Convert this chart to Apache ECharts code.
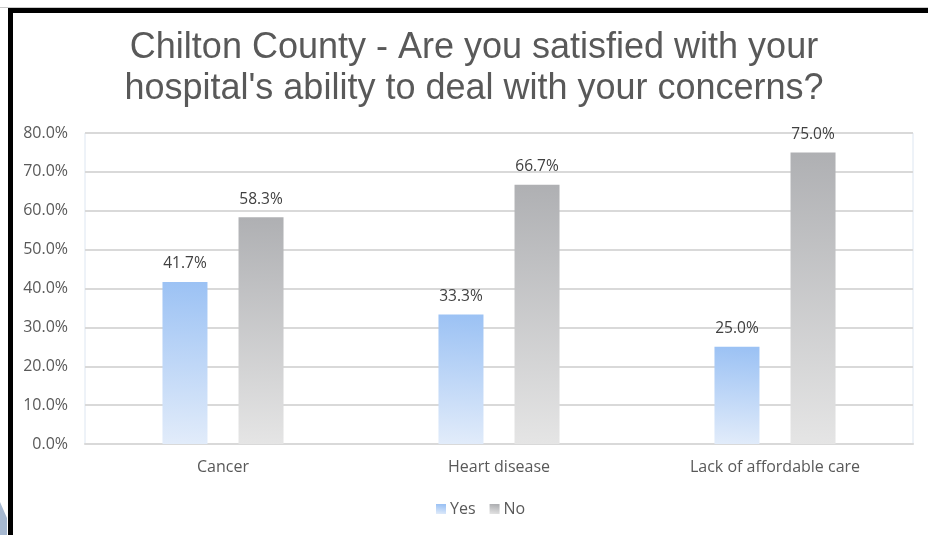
<!DOCTYPE html>
<html>
<head>
<meta charset="utf-8">
<script src="https://cdn.jsdelivr.net/npm/echarts@6/dist/echarts.min.js"></script>
<style>
  html, body { margin: 0; padding: 0; background: #ffffff; }
  #chart { width: 928px; height: 535px; }
</style>
</head>
<body>
<div id="chart"></div>
<script>
// Survey results by concern
const categories = ['Cancer', 'Heart disease', 'Lack of affordable care'];
const yesValues = [41.7, 33.3, 25.0];
const noValues = [58.3, 66.7, 75.0];
const seriesNames = ['Yes', 'No'];
const titleLines = ['Chilton County - Are you satisfied with your', "hospital's ability to deal with your concerns?"];

const labelFont = '"Open Sans", "Liberation Sans", sans-serif';

function grad(top, bottom) {
  return new echarts.graphic.LinearGradient(0.15, 0, 0, 1, [
    { offset: 0, color: top },
    { offset: 1, color: bottom }
  ]);
}
const yesFill = grad('#9cc2f4', '#e2ecfa');
const noFill = grad('#afb0b3', '#e5e5e5');

const chart = echarts.init(document.getElementById('chart'), null, { renderer: 'canvas' });

chart.setOption({
  backgroundColor: '#ffffff',
  animation: false,
  graphic: [
    // slide frame: thin grey rule, black top band and left band
    { type: 'rect', shape: { x: 0, y: 7, width: 928, height: 1 }, style: { fill: '#c9c9c9' }, silent: true },
    { type: 'rect', shape: { x: 8, y: 8, width: 920, height: 5 }, style: { fill: '#000000' }, silent: true },
    { type: 'rect', shape: { x: 8, y: 8, width: 5, height: 527 }, style: { fill: '#000000' }, silent: true },
    { type: 'polygon', shape: { points: [[0, 502], [7, 518], [7, 535], [0, 535]] }, style: { fill: '#a6b8d0' }, silent: true },
    {
      type: 'text', x: 474, y: 28,
      style: {
        text: titleLines.join('\n'),
        fill: '#595959',
        font: '36px "Liberation Sans", Arial, sans-serif',
        lineHeight: 41,
        align: 'center',
        textAlign: 'center',
        verticalAlign: 'top'
      }
    }
  ],
  legend: {
    data: seriesNames,
    bottom: 13,
    left: 431,
    itemWidth: 10,
    itemHeight: 10,
    itemGap: 14,
    icon: 'rect',
    textStyle: { color: '#595959', fontSize: 16, fontFamily: labelFont, padding: [0, 0, 0, -1] }
  },
  grid: {
    left: 85, right: 15, top: 133, bottom: 91,
    show: true,
    borderColor: '#dde6f1',
    borderWidth: 1,
    containLabel: false
  },
  xAxis: {
    type: 'category',
    data: categories,
    axisTick: { show: false },
    axisLine: { show: true, lineStyle: { color: '#d9d9d9', width: 2 } },
    axisLabel: { color: '#595959', fontSize: 16, fontFamily: labelFont, margin: 15 }
  },
  yAxis: {
    type: 'value',
    min: 0, max: 80, interval: 10,
    axisLine: { show: false },
    axisTick: { show: false },
    splitLine: { lineStyle: { color: '#d9d9d9', width: 2 } },
    axisLabel: {
      color: '#595959', fontSize: 16, fontFamily: labelFont, margin: 17,
      formatter: v => v.toFixed(1) + '%'
    }
  },
  series: [
    {
      name: seriesNames[0], type: 'bar', data: yesValues,
      barWidth: 45, barGap: '69%',
      itemStyle: { color: yesFill },
      label: {
        show: true, position: 'top', distance: 10,
        color: '#404040', fontSize: 15.5, fontFamily: labelFont,
        formatter: p => p.value.toFixed(1) + '%'
      }
    },
    {
      name: seriesNames[1], type: 'bar', data: noValues,
      barWidth: 45, barGap: '69%',
      itemStyle: { color: noFill },
      label: {
        show: true, position: 'top', distance: 10,
        color: '#404040', fontSize: 15.5, fontFamily: labelFont,
        formatter: p => p.value.toFixed(1) + '%'
      }
    }
  ]
});
</script>
</body>
</html>
